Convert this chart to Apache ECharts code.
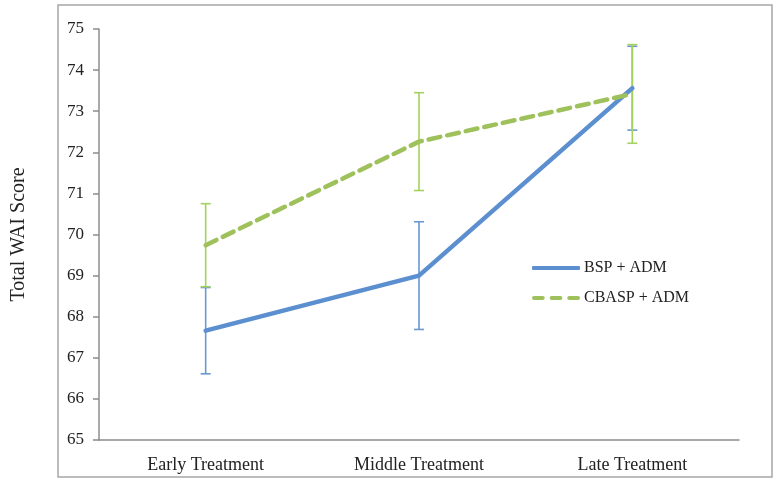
<!DOCTYPE html>
<html><head><meta charset="utf-8">
<script src="https://cdn.jsdelivr.net/npm/echarts@6/dist/echarts.min.js"></script>
<style>html,body{margin:0;padding:0;background:#fff}#c{width:776px;height:481px}</style>
</head><body><div id="c"></div>
<script>
const categories = ['Early Treatment', 'Middle Treatment', 'Late Treatment'];
const bspMean = [67.66, 69.0, 73.56];
const bspErr = [1.05, 1.31, 1.02];
const cbaspMean = [69.74, 72.26, 73.42];
const cbaspErr = [1.01, 1.19, 1.2];
const yTicks = [65, 66, 67, 68, 69, 70, 71, 72, 73, 74, 75];

const serif = '"Liberation Serif", "DejaVu Serif", serif';
const blue = '#5b8fcf';
const green = '#9fc15c';
const blueErr = '#6a98d3';
const greenErr = '#a4d25e';

function errData(mean, err) {
  return mean.map((m, i) => [i, m - err[i], m + err[i]]);
}
function errSeries(name, mean, err, color) {
  return {
    type: 'custom', name: name + ' err', silent: true, z: 3,
    data: errData(mean, err),
    renderItem: function (params, api) {
      const x = api.value(0);
      const lo = api.coord([x, api.value(1)]);
      const hi = api.coord([x, api.value(2)]);
      const w = 5;
      const st = { stroke: color, lineWidth: 1.6 };
      return {
        type: 'group', children: [
          { type: 'line', shape: { x1: lo[0], y1: lo[1], x2: hi[0], y2: hi[1] }, style: st },
          { type: 'line', shape: { x1: lo[0] - w, y1: lo[1], x2: lo[0] + w, y2: lo[1] }, style: st },
          { type: 'line', shape: { x1: hi[0] - w, y1: hi[1], x2: hi[0] + w, y2: hi[1] }, style: st }
        ]
      };
    }
  };
}

const chart = echarts.init(document.getElementById('c'));
chart.setOption({
  animation: false,
  backgroundColor: '#fff',
  graphic: [{
    type: 'rect', shape: { x: 58, y: 5, width: 714, height: 472 },
    style: { fill: 'none', stroke: '#a6a6a6', lineWidth: 1.5 }, z: 0
  }],
  grid: { left: 99, top: 29, right: 37, bottom: 41, containLabel: false },
  legend: {
    orient: 'vertical', left: 532, top: 260, padding: 0, itemWidth: 48, itemHeight: 4, itemGap: 14,
    textStyle: { fontFamily: serif, fontSize: 16, color: '#222', padding: [0, 0, 0, -1] },
    data: [
      { name: 'BSP + ADM', icon: 'roundRect' },
      { name: 'CBASP + ADM', icon: 'path://M2,0h9a2,2 0 0 1 0,4h-9a2,2 0 0 1 0,-4z M20,0h9a2,2 0 0 1 0,4h-9a2,2 0 0 1 0,-4z M38,0h9a2,2 0 0 1 0,4h-9a2,2 0 0 1 0,-4z' }
    ]
  },
  xAxis: {
    type: 'category', data: categories, boundaryGap: true,
    axisLine: { lineStyle: { color: '#8c8c8c', width: 1.5 } },
    axisTick: { show: false },
    axisLabel: { fontFamily: serif, fontSize: 18, color: '#222', margin: 16 }
  },
  yAxis: {
    type: 'value', min: 65, max: 75, interval: 1,
    name: 'Total WAI Score', nameLocation: 'middle', nameGap: 70, nameRotate: 90,
    nameTextStyle: { fontFamily: serif, fontSize: 20, color: '#222' },
    splitLine: { show: false },
    axisLine: { show: true, lineStyle: { color: '#8c8c8c', width: 1.5 } },
    axisTick: { show: true, length: 6, lineStyle: { color: '#8c8c8c', width: 1.5 } },
    axisLabel: { fontFamily: serif, fontSize: 17, color: '#222', margin: 15,
      customValues: yTicks }
  },
  series: [
    errSeries('BSP + ADM', bspMean, bspErr, blueErr),
    errSeries('CBASP + ADM', cbaspMean, cbaspErr, greenErr),
    {
      name: 'BSP + ADM', type: 'line', data: bspMean, showSymbol: false, symbol: 'none', z: 4,
      itemStyle: { color: blue },
      lineStyle: { color: blue, width: 4.5, cap: 'round' }
    },
    {
      name: 'CBASP + ADM', type: 'line', data: cbaspMean, showSymbol: false, symbol: 'none', z: 4,
      itemStyle: { color: green },
      lineStyle: { color: green, width: 4.5, type: [12, 7], cap: 'round' }
    }
  ]
});
</script></body></html>
